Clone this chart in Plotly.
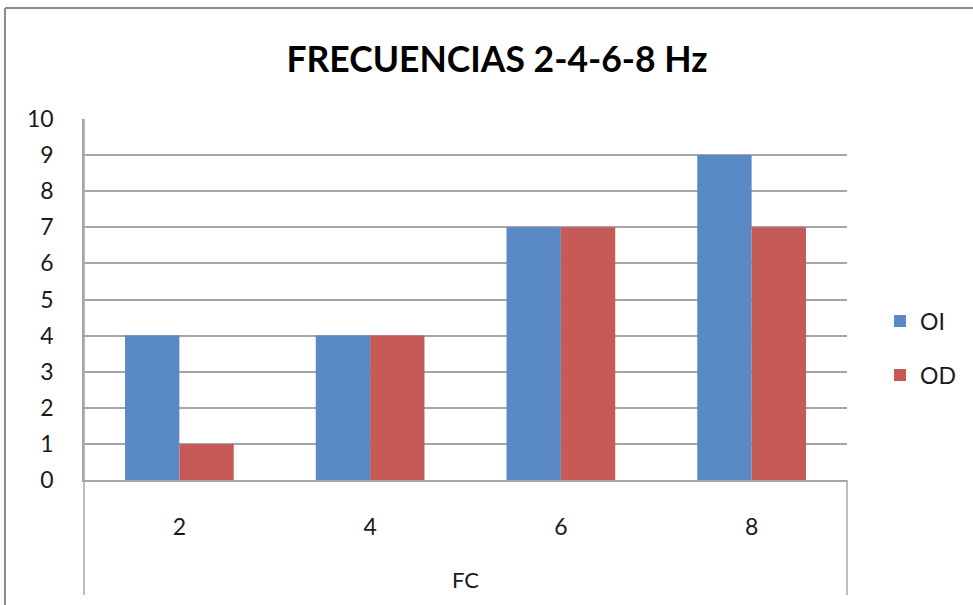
import plotly.graph_objects as go

categories = ["2", "4", "6", "8"]
oi_values = [4, 4, 7, 9]
od_values = [1, 4, 7, 7]
y_ticks = list(range(0, 11))

W, H = 973, 605
L, R, T, B = 84, 126, 119, 125
pw, ph = W - L - R, H - T - B

def px(x):
    return (x - L) / pw

def py(y):
    return (H - B - y) / ph

font_family = "Lato, 'Open Sans', sans-serif"

fig = go.Figure()
fig.add_trace(go.Bar(x=categories, y=oi_values, name="OI", marker=dict(color="#5A8AC6", line=dict(width=0)), legend="legend"))
fig.add_trace(go.Bar(x=categories, y=od_values, name="OD", marker=dict(color="#C65A56", line=dict(width=0)), legend="legend2"))

line_col = "#A6A6A6"
shapes = [
    # outer chart border
    dict(type="line", xref="paper", yref="paper", x0=px(5), x1=px(990), y0=py(8), y1=py(8), line=dict(color="#8C8C8C", width=2)),
    dict(type="line", xref="paper", yref="paper", x0=px(5), x1=px(5), y0=py(8), y1=py(620), line=dict(color="#8C8C8C", width=2)),
    # left axis extension
    dict(type="line", xref="paper", yref="paper", x0=0, x1=0, y0=1, y1=py(595), line=dict(color=line_col, width=1.5)),
    # right box line under axis
    dict(type="line", xref="paper", yref="paper", x0=1, x1=1, y0=0, y1=py(595), line=dict(color=line_col, width=1.5)),
]

fig.update_layout(
    width=W, height=H,
    margin=dict(l=L, r=R, t=T, b=B),
    paper_bgcolor="white", plot_bgcolor="white",
    barmode="group", bargap=0.43, bargroupgap=0,
    title=dict(text="<b>FRECUENCIAS 2-4-6-8 Hz</b>", x=px(497), xanchor="center", xref="paper",
               y=1 - 60 / H, yanchor="middle", font=dict(family=font_family, size=35.5, color="black")),
    font=dict(family=font_family, size=23, color="#1a1a1a"),
    shapes=shapes,
    legend=dict(x=px(880), y=py(321), xanchor="left", yanchor="middle", font=dict(size=23), bgcolor="rgba(0,0,0,0)"),
    legend2=dict(x=px(880), y=py(375), xanchor="left", yanchor="middle", font=dict(size=23), bgcolor="rgba(0,0,0,0)"),
    showlegend=True,
)

fig.update_xaxes(
    type="category", showgrid=False, showline=True, linecolor=line_col, linewidth=1.5,
    ticks="", ticklabelstandoff=26, tickfont=dict(size=23),
    title=dict(text="FC", font=dict(size=22), standoff=33),
)
fig.update_yaxes(
    range=[0, 10], tickvals=y_ticks, showgrid=True, gridcolor=line_col, gridwidth=1.5,
    showline=True, linecolor=line_col, linewidth=1.5, ticks="", zeroline=False,
    tickfont=dict(size=23), ticklabelstandoff=24, mirror=False,
)

fig.write_html("out.html", config={"displayModeBar": False},
               post_script="document.body.style.margin='0px';")
